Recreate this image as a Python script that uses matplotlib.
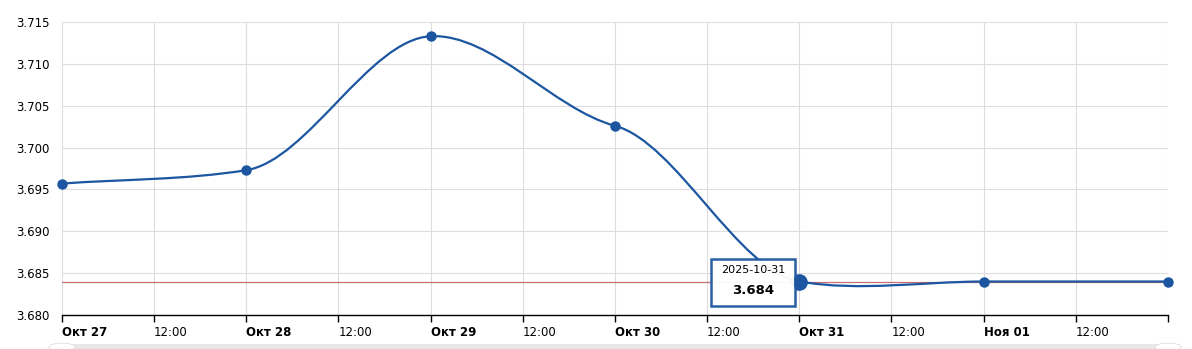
import matplotlib
matplotlib.use("Agg")
import matplotlib.pyplot as plt
import matplotlib.dates as mdates
import matplotlib.transforms as mtransforms
from matplotlib.path import Path
from matplotlib.patches import PathPatch, Rectangle, Polygon, Circle
from datetime import datetime

dates = ["2025-10-27", "2025-10-28", "2025-10-29", "2025-10-30",
         "2025-10-31", "2025-11-01", "2025-11-02"]
rates = [3.6957, 3.6973, 3.7133, 3.7026, 3.6840, 3.6840, 3.6840]
ref_level = 3.684
tip_date = "2025-10-31"
tip_value = "3.684"

tick_labels = ["Окт 27", "12:00", "Окт 28", "12:00", "Окт 29", "12:00", "Окт 30",
               "12:00", "Окт 31", "12:00", "Ноя 01", "12:00"]

LINE = "#1c56a0"

x = [mdates.date2num(datetime.strptime(d, "%Y-%m-%d")) for d in dates]
y = rates


def smooth_path(xs, ys, k=0.4):
    # cardinal-style spline drawn as cubic beziers, with damped tangents
    n = len(xs)
    m = []
    for i in range(n):
        if i == 0:
            m.append((ys[1] - ys[0]) / (xs[1] - xs[0]))
        elif i == n - 1:
            m.append((ys[-1] - ys[-2]) / (xs[-1] - xs[-2]))
        else:
            m.append(k * (ys[i + 1] - ys[i - 1]) / (xs[i + 1] - xs[i - 1]))
    verts = [(xs[0], ys[0])]
    codes = [Path.MOVETO]
    for i in range(n - 1):
        h = xs[i + 1] - xs[i]
        verts += [(xs[i] + h / 3, ys[i] + m[i] * h / 3),
                  (xs[i + 1] - h / 3, ys[i + 1] - m[i + 1] * h / 3),
                  (xs[i + 1], ys[i + 1])]
        codes += [Path.CURVE4] * 3
    return Path(verts, codes)


fig = plt.figure(figsize=(11.92, 3.49), dpi=100)
ax = fig.add_axes([62 / 1192, 1 - 315 / 349, 1106 / 1192, 293 / 349])

ax.set_xlim(x[0], x[-1])
ax.set_ylim(3.680, 3.715)

ticks = [x[0] + 0.5 * i for i in range(13)]
ax.set_xticks(ticks)
ax.set_xticklabels(tick_labels + [""])
shift = mtransforms.ScaledTranslation(3 / 100, 0, fig.dpi_scale_trans)
for i, lab in enumerate(ax.get_xticklabels()):
    lab.set_horizontalalignment("left")
    lab.set_transform(lab.get_transform() + shift)
    if i % 2 == 0:
        lab.set_fontweight("bold")

yt = [3.680, 3.685, 3.690, 3.695, 3.700, 3.705, 3.710, 3.715]
ax.set_yticks(yt)
ax.set_yticklabels([f"{v:.3f}" for v in yt])

ax.grid(True, color="#dddddd", linewidth=0.8)
ax.set_axisbelow(True)
for s in ["top", "right", "left"]:
    ax.spines[s].set_visible(False)
ax.spines["bottom"].set_color("black")
ax.spines["bottom"].set_linewidth(1.0)
ax.tick_params(axis="x", direction="out", length=5, width=1, colors="black",
               labelsize=8.5, pad=3)
ax.tick_params(axis="y", length=0, labelsize=8.5, pad=9)

ax.axhline(ref_level, color="#c87070", linewidth=0.9, zorder=2)

ax.add_patch(PathPatch(smooth_path(x, y), facecolor="none", edgecolor=LINE,
                       linewidth=1.6, zorder=3))
ax.plot(x, y, "o", color=LINE, markersize=6.5, zorder=4, clip_on=False)
tip_x = mdates.date2num(datetime.strptime(tip_date, "%Y-%m-%d"))
ax.plot([tip_x], [ref_level], "o", color=LINE, markersize=11, zorder=5)

# tooltip box (axes fraction from pixel layout)
bx0, bx1, by0, by1 = (711 - 62) / 1106, (795 - 62) / 1106, (315 - 306) / 293, (315 - 259) / 293
ax.add_patch(Rectangle((bx0, by0), bx1 - bx0, by1 - by0, transform=ax.transAxes,
                       facecolor="white", edgecolor=LINE, linewidth=1.8, zorder=6,
                       alpha=0.95))
ax.add_patch(Polygon([(bx1, (315 - 277) / 293), ((798 - 62) / 1106, (315 - 282) / 293),
                      (bx1, (315 - 287) / 293)], closed=True, transform=ax.transAxes,
                     facecolor=LINE, edgecolor=LINE, zorder=6))
ax.text((bx0 + bx1) / 2, (315 - 270) / 293, tip_date, transform=ax.transAxes,
        ha="center", va="center", fontsize=8, zorder=7)
ax.text((bx0 + bx1) / 2, (315 - 290) / 293, tip_value, transform=ax.transAxes,
        ha="center", va="center", fontsize=9.5, fontweight="bold", zorder=7)

# scrollbar strip at bottom
fig.patches.append(Rectangle((62 / 1192, 0), 1106 / 1192, 5 / 349,
                             transform=fig.transFigure, facecolor="#e8e8e8",
                             edgecolor="none"))
for cx in (62, 1168):
    fig.patches.append(Circle((cx / 1192, 2 / 349), 0.011, transform=fig.transFigure,
                              facecolor="white", edgecolor="#dddddd", linewidth=0.6))

fig.savefig("out.png", dpi=100)
